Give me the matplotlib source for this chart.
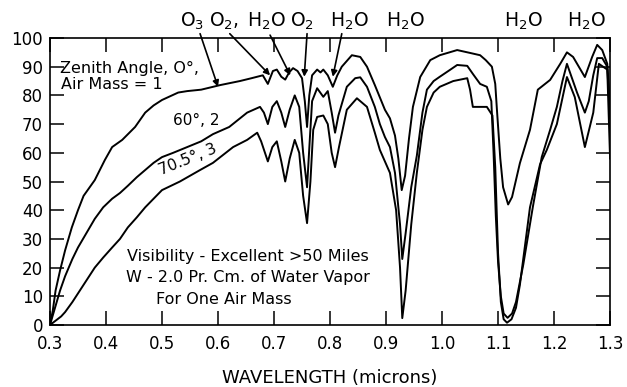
import matplotlib.pyplot as plt

# Solar transmission through the atmosphere, three air masses
# wavelength in microns, transmission in percent

wl_am1 = [0.300, 0.305, 0.310, 0.318, 0.327, 0.339, 0.350, 0.360, 0.380, 0.398,
          0.411, 0.429, 0.452, 0.470, 0.485, 0.500, 0.529, 0.545, 0.570, 0.604,
          0.639, 0.660, 0.680, 0.689, 0.698, 0.705, 0.713, 0.720, 0.727, 0.734,
          0.742, 0.750, 0.755, 0.759, 0.763, 0.768, 0.777, 0.783, 0.788, 0.796,
          0.805, 0.813, 0.821, 0.839, 0.854, 0.866, 0.880, 0.898, 0.907, 0.916,
          0.922, 0.928, 0.934, 0.941, 0.948, 0.961, 0.979, 0.996, 1.027, 1.050,
          1.068, 1.078, 1.089, 1.095, 1.098, 1.104, 1.109, 1.118, 1.125, 1.139,
          1.157, 1.171, 1.193, 1.211, 1.223, 1.234, 1.255, 1.268, 1.277, 1.286,
          1.295, 1.300]
tr_am1 = [0, 5, 12, 19, 26, 34, 40, 45, 50.5, 57.5,
          62, 64.5, 69, 74, 76.5, 78.4, 81, 81.5, 82, 83.6,
          85, 86, 87, 84, 88.5, 89, 86.5, 85.5, 88, 89.5,
          88.5, 86, 78, 69, 80, 87, 89, 88, 89, 87,
          83, 87, 90, 94, 93.4, 90, 83.6, 75, 72, 66,
          58, 47, 52, 65, 76, 86.4, 92.3, 94, 95.8, 94.8,
          94, 92.3, 90, 84, 75, 58, 48, 42, 44.6, 56.4,
          68, 82, 85.4, 91, 95, 93.4, 86.4, 93.4, 97.6, 95.8,
          91, 76]

wl_am2 = [0.300, 0.309, 0.318, 0.327, 0.340, 0.350, 0.365, 0.380, 0.395, 0.411,
          0.425, 0.439, 0.455, 0.470, 0.485, 0.500, 0.520, 0.545, 0.570, 0.591,
          0.620, 0.652, 0.675, 0.682, 0.689, 0.697, 0.705, 0.713, 0.720, 0.728,
          0.737, 0.745, 0.752, 0.759, 0.764, 0.768, 0.777, 0.788, 0.796, 0.803,
          0.809, 0.815, 0.830, 0.845, 0.854, 0.866, 0.880, 0.889, 0.898, 0.907,
          0.916, 0.925, 0.929, 0.935, 0.945, 0.955, 0.965, 0.973, 0.985, 0.996,
          1.015, 1.027, 1.045, 1.055, 1.068, 1.080, 1.088, 1.092, 1.096, 1.100,
          1.105, 1.110, 1.117, 1.125, 1.132, 1.145, 1.162, 1.178, 1.193, 1.205,
          1.215, 1.223, 1.232, 1.241, 1.255, 1.262, 1.270, 1.277, 1.286, 1.295,
          1.300]
tr_am2 = [0, 6, 12, 17, 23, 27, 32, 37, 41, 44,
          46, 48.5, 51.5, 54, 56.5, 58.5, 60, 62, 64, 66.5,
          69, 74, 76, 74, 70, 76, 78, 74, 69, 75,
          80, 76, 60, 48, 65, 78, 82.5, 79.5, 81.5, 74,
          67, 73, 83, 86, 86.3, 83, 76, 70, 65.5, 62,
          53, 35, 23, 32, 48, 59, 74, 82, 85, 86.5,
          89, 90.6, 90.3, 87.5, 84, 83, 78, 60, 38, 22,
          10, 4, 2.5, 4, 8, 21, 41, 58.5, 68, 76,
          85, 91, 86, 81, 74, 78, 87, 93, 93, 90,
          72]

wl_am3 = [0.300, 0.310, 0.320, 0.327, 0.340, 0.350, 0.365, 0.380, 0.395, 0.411,
          0.425, 0.439, 0.455, 0.470, 0.485, 0.500, 0.532, 0.568, 0.591, 0.627,
          0.652, 0.670, 0.677, 0.689, 0.697, 0.705, 0.713, 0.720, 0.728, 0.737,
          0.745, 0.752, 0.759, 0.765, 0.770, 0.777, 0.788, 0.796, 0.803, 0.809,
          0.816, 0.830, 0.848, 0.866, 0.880, 0.889, 0.907, 0.918, 0.925, 0.929,
          0.935, 0.945, 0.955, 0.965, 0.973, 0.985, 0.996, 1.020, 1.045, 1.050,
          1.055, 1.068, 1.080, 1.090, 1.095, 1.100, 1.105, 1.110, 1.116, 1.124,
          1.132, 1.139, 1.157, 1.175, 1.187, 1.205, 1.223, 1.237, 1.255, 1.270,
          1.280, 1.295, 1.300]
tr_am3 = [0, 1.5, 3, 4.5, 8, 11, 15.5, 20, 23.5, 27,
          30, 34, 37.5, 41, 44, 47, 50, 54, 56.5, 62,
          64.5, 67, 64, 57, 62, 64, 57, 50, 58, 64.5,
          60, 45, 35.5, 50, 68, 72.5, 73, 70, 60, 55,
          62, 75, 79, 76, 67, 61, 53, 40, 20, 2.4,
          12, 35, 53, 68, 76, 81, 83, 85, 86, 82,
          76, 76, 76, 73, 55, 25, 8, 2, 0.8, 2,
          6, 14, 41, 56, 61, 70, 86.4, 79.4, 62, 74,
          91, 89, 58]

# absorption band labels along the top, and the arrows from them
band_labels = ['O$_3$', 'O$_2$,', 'H$_2$O', 'O$_2$', 'H$_2$O', 'H$_2$O', 'H$_2$O', 'H$_2$O']
band_x = [0.553, 0.611, 0.686, 0.750, 0.834, 0.934, 1.146, 1.257]
arrow_from = [(0.568, 101.5), (0.621, 101.5), (0.693, 101.0), (0.759, 101.5), (0.821, 101.5)]
arrow_to = [(0.600, 83.0), (0.693, 87.0), (0.729, 87.0), (0.754, 86.5), (0.805, 86.5)]

xticks = [0.3, 0.4, 0.5, 0.6, 0.7, 0.8, 0.9, 1.0, 1.1, 1.2, 1.3]
xtick_labels = ['0.3', '0.4', '0.5', '0.6', '0.7', '0.8', '0.9', '1.0', '1.1', '1.2', '1.3']
yticks = list(range(0, 101, 10))

fig = plt.figure(figsize=(6.27, 3.87), dpi=100)
ax = fig.add_axes([0.0797, 0.1602, 0.8933, 0.7416])

for wl, tr in [(wl_am1, tr_am1), (wl_am2, tr_am2), (wl_am3, tr_am3)]:
    ax.plot(wl, tr, color='black', lw=1.4, solid_joinstyle='round')

ax.set_xlim(0.3, 1.3)
ax.set_ylim(0, 100)
ax.set_xticks(xticks)
ax.set_xticklabels(xtick_labels)
ax.set_yticks(yticks)
ax.tick_params(axis='both', direction='in', length=10, width=1.1, labelsize=12,
               top=True, right=True)
ax.tick_params(axis='x', pad=7)
ax.tick_params(axis='y', pad=5)
for s in ax.spines.values():
    s.set_linewidth(1.2)

ax.set_xlabel('WAVELENGTH (microns)', fontsize=13, labelpad=12)

# curve labels
ax.text(0.318, 89.5, 'Zenith Angle, O°,', fontsize=11.5, va='center', ha='left')
ax.text(0.320, 83.8, 'Air Mass = 1', fontsize=11.5, va='center', ha='left')
ax.text(0.562, 71.4, '60°, 2', fontsize=11, va='center', ha='center')
ax.text(0.546, 57.5, '70.5°, 3', fontsize=11, va='center', ha='center', rotation=22)

# conditions note
ax.text(0.437, 23.7, 'Visibility - Excellent >50 Miles', fontsize=11.5, va='center', ha='left')
ax.text(0.435, 16.4, 'W - 2.0 Pr. Cm. of Water Vapor', fontsize=11.5, va='center', ha='left')
ax.text(0.490, 9.0, 'For One Air Mass', fontsize=11.5, va='center', ha='left')

for lab, x in zip(band_labels, band_x):
    ax.text(x, 103.8, lab, fontsize=13.5, ha='center', va='baseline', clip_on=False)

for p0, p1 in zip(arrow_from, arrow_to):
    ax.annotate('', xy=p1, xytext=p0, annotation_clip=False,
                arrowprops=dict(arrowstyle='-|>', lw=1.2, color='black',
                                mutation_scale=9, shrinkA=0, shrinkB=0))

fig.savefig('out.png', dpi=100)
